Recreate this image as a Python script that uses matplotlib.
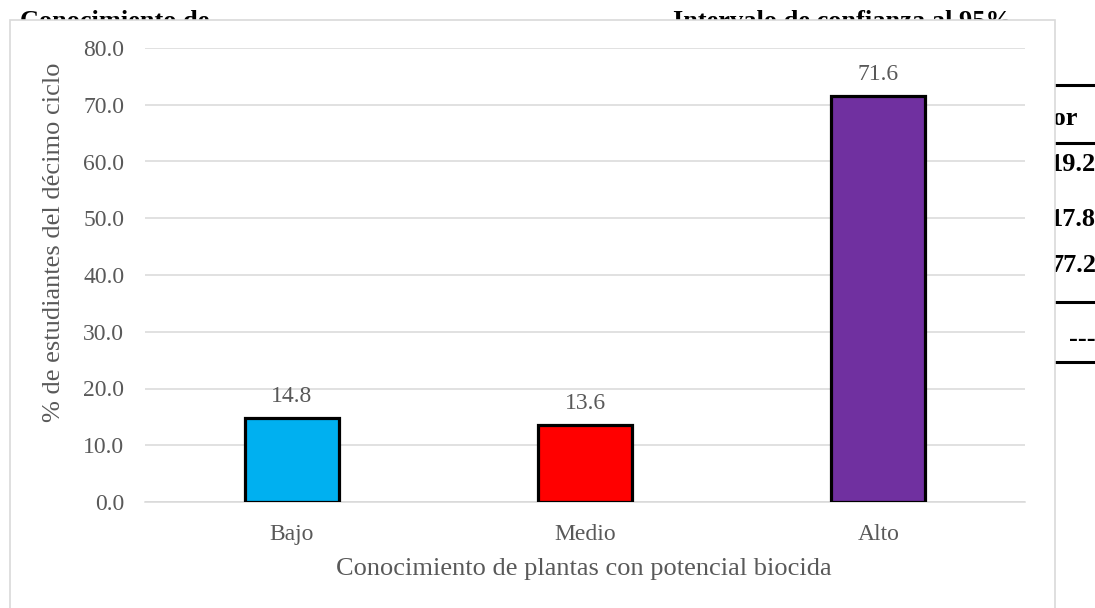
import matplotlib
matplotlib.use("Agg")
import matplotlib.pyplot as plt
from matplotlib.patches import Rectangle
from matplotlib.lines import Line2D

# Data
categories = ["Bajo", "Medio", "Alto"]
values = [14.8, 13.6, 71.6]
bar_colors = ["#00B0F0", "#FF0000", "#7030A0"]
y_ticks = [0, 10, 20, 30, 40, 50, 60, 70, 80]

# Table fragments of the surrounding document
table_header_left = "Conocimiento de"
table_header_right = "Intervalo de confianza al 95%"
table_col_header = "Superior"
table_col_values = ["19.2", "17.8", "77.2", "---"]

W, H = 1095, 608
fig = plt.figure(figsize=(W / 100, H / 100), dpi=100)
fig.patch.set_facecolor("white")

serif = ["Liberation Serif", "DejaVu Serif"]
gray_txt = "#595959"


def fx(px):
    return px / W


def fy(py):
    return 1 - py / H


# Document text behind the chart
bold_kw = dict(family=serif, fontweight="bold", fontsize=19, color="black", zorder=1)
fig.text(fx(20), fy(28), table_header_left, ha="left", va="baseline", **bold_kw)
fig.text(fx(673), fy(28), table_header_right, ha="left", va="baseline", **bold_kw)
fig.text(fx(1078), fy(125), table_col_header, ha="right", va="baseline", **bold_kw)
for txt, yb in zip(table_col_values, [171, 226, 272, 346]):
    fig.text(fx(1096), fy(yb), txt, ha="right", va="baseline", **bold_kw)
for yl in [85, 143, 302, 362]:
    fig.add_artist(Line2D([fx(1040), fx(1100)], [fy(yl), fy(yl)],
                          color="black", lw=2.2, zorder=1))

# Chart area frame
fig.add_artist(Rectangle((fx(10), fy(640)), fx(1055) - fx(10), fy(20) - fy(640),
                         facecolor="white", edgecolor="#D9D9D9", lw=1.2,
                         transform=fig.transFigure, zorder=2))

# Plot area
ax = fig.add_axes([fx(145), fy(502), fx(1025) - fx(145), fy(48) - fy(502)])
ax.set_zorder(3)
ax.patch.set_alpha(0)

x = list(range(len(categories)))
bars = ax.bar(x, values, width=0.32, color=bar_colors, edgecolor="black",
              linewidth=2.3, zorder=3)
for b, v in zip(bars, values):
    ax.annotate(f"{v:.1f}", (b.get_x() + b.get_width() / 2, v),
                xytext=(0, 15.5), textcoords="offset points",
                ha="center", va="center", family=serif, fontsize=17,
                color=gray_txt)

ax.set_xlim(-0.5, len(categories) - 0.5)
ax.set_ylim(0, 80)
ax.set_yticks(y_ticks)
ax.set_yticklabels([f"{t:.1f}" for t in y_ticks])
ax.set_xticks(x)
ax.set_xticklabels(categories)
ax.yaxis.grid(True, color="#D9D9D9", lw=1.1, zorder=0)
ax.set_axisbelow(True)
for s in ["left", "right", "top"]:
    ax.spines[s].set_visible(False)
ax.spines["bottom"].set_color("#D9D9D9")
ax.spines["bottom"].set_linewidth(1.1)
ax.tick_params(axis="both", length=0, labelsize=17, labelcolor=gray_txt)
ax.tick_params(axis="y", pad=15)
ax.tick_params(axis="x", pad=16)
for lab in ax.get_xticklabels() + ax.get_yticklabels():
    lab.set_family(serif)

ax.set_xlabel("Conocimiento de plantas con potencial biocida", family=serif,
              fontsize=19, color=gray_txt)
ax.set_ylabel("% de estudiantes del décimo ciclo", family=serif,
              fontsize=19, color=gray_txt)
ax.xaxis.set_label_coords(0.499, -0.147)
ax.yaxis.set_label_coords(-0.103, 0.572)
ax.xaxis.label.set_va("center")
ax.yaxis.label.set_va("center")

fig.savefig("out.png", dpi=100)
